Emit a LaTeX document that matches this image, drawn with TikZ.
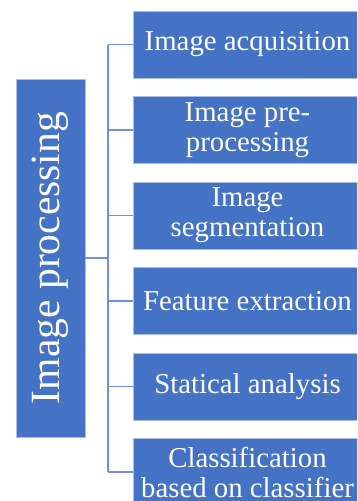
\documentclass[tikz,border=0pt]{standalone}
\usepackage{fontspec}
\setmainfont{Liberation Serif}
\usepackage{tikz}
\usetikzlibrary{positioning,calc}
\definecolor{boxblue}{HTML}{4472C4}
\definecolor{boxedge}{HTML}{A9BDE6}
\definecolor{linkblue}{HTML}{7391D0}
\tikzset{
stage/.style={draw=boxedge,line width=0.8pt,fill=boxblue,text=white,minimum width=229pt,minimum height=67pt,
inner sep=0pt,align=center,font=\fontsize{28.8}{30}\selectfont},
mainbox/.style={draw=boxedge,line width=0.8pt,fill=boxblue,text=white,rotate=90,minimum width=358pt,minimum height=69pt,
inner sep=0pt,font=\fontsize{41.6}{44}\selectfont},
link/.style={draw=linkblue,line width=1.4pt}
}
\begin{document}
\begin{tikzpicture}[x=1pt,y=-1pt,node distance=17.7pt]
\useasboundingbox (0,0) rectangle (357,501);
\clip (0,0) rectangle (357,501);
\node[mainbox] (proc) at (50.5,258) {Image processing};
\node[stage] (s1) at (247.5,44.5) {Image acquisition};
\node[stage,below=of s1] (s2) {Image pre-\\processing};
\node[stage,below=of s2] (s3) {Image\\segmentation};
\node[stage,below=of s3] (s4) {Feature extraction};
\node[stage,below=of s4] (s5) {Statical analysis};
\node[stage,below=of s5] (s6) {Classification\\based on classifier};
\coordinate (tk) at (108,0);
\draw[link] (s1.west -| tk) -- (s6.west -| tk);
\draw[link] (proc.south) -- (proc.south -| tk);
\foreach \s in {s1,s2,s3,s4,s5,s6}
  \draw[link] (\s.west) -- (\s.west -| tk);
\end{tikzpicture}
\end{document}
